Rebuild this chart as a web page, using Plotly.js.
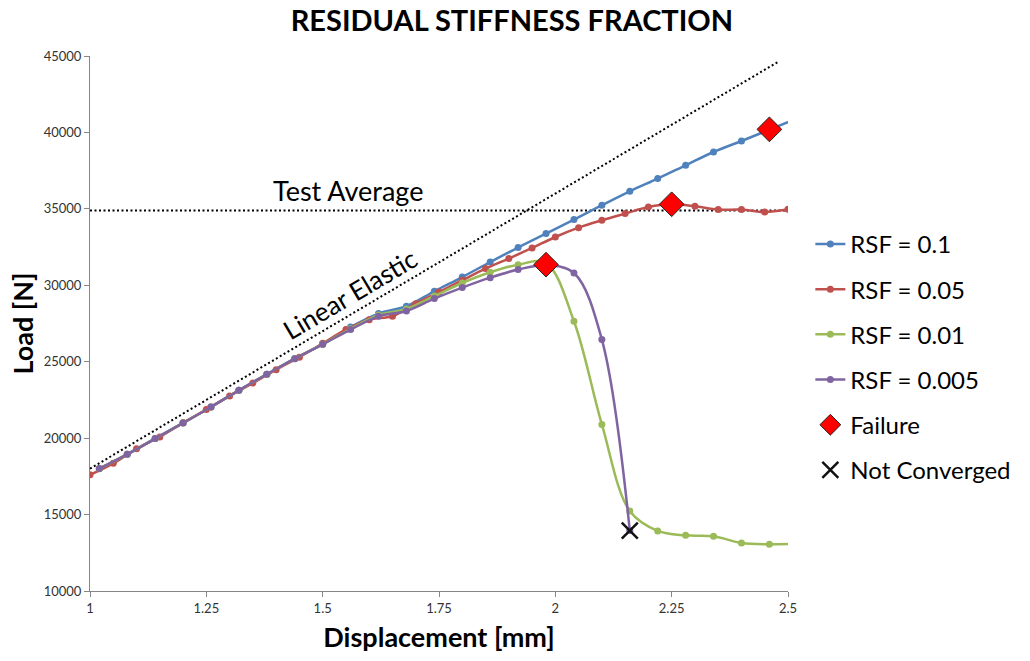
<!DOCTYPE html>
<html>
<head>
<meta charset="utf-8">
<script src="https://cdn.plot.ly/plotly-3.0.1.min.js"></script>
<style>html,body{margin:0;padding:0;background:#fff;}#chart{width:1030px;height:661px;}</style>
</head>
<body>
<div id="chart"></div>
<script>
// ---- data ----
var xStep06 = [1.02,1.08,1.14,1.20,1.26,1.32,1.38,1.44,1.50,1.56,1.62,1.68,1.74,1.80,1.86,1.92,1.98,2.04,2.10,2.16,2.22,2.28,2.34,2.40,2.46,2.52];
var xStep05 = [1.00,1.05,1.10,1.15,1.20,1.25,1.30,1.35,1.40,1.45,1.50,1.55,1.60,1.65,1.70,1.75,1.80,1.85,1.90,1.95,2.00,2.05,2.10,2.15,2.20,2.25,2.30,2.35,2.40,2.45,2.50];

var rsf01 = [18000,18950,19980,21000,22040,23130,24180,25210,26150,27270,28150,28630,29610,30540,31520,32470,33380,34300,35240,36150,36980,37850,38720,39440,40180,40930];
var rsf005 = [17600,18350,19300,20080,21000,21870,22760,23600,24480,25300,26200,27100,27750,27980,28800,29560,30330,31090,31750,32440,33160,33770,34250,34690,35120,35300,35170,34950,34950,34790,34970];
var rsf001 = [18010,18940,19970,20990,22040,23130,24180,25200,26140,27150,28050,28450,29300,30150,30850,31350,31450,27650,20900,15230,13930,13640,13580,13140,13060,13100];
var xRsf0005 = [1.02,1.08,1.14,1.20,1.26,1.32,1.38,1.44,1.50,1.56,1.62,1.68,1.74,1.80,1.86,1.92,1.98,2.04,2.10,2.16];
var rsf0005 = [18010,18940,19970,20990,22040,23130,24180,25200,26140,27100,27970,28320,29130,29850,30500,31030,31310,30800,26450,13950];

var failX = [1.98, 2.25, 2.46];
var failY = [31350, 35300, 40200];
var notConvX = [2.16];
var notConvY = [13950];

var testAvgX = [1, 2.5];
var testAvgY = [34900, 34900];
var linElX = [1, 2.48];
var linElY = [18000, 44640];

var seriesNames = ['RSF = 0.1','RSF = 0.05','RSF = 0.01','RSF = 0.005'];
var colors = ['#4F81BD','#C0504D','#9BBB59','#8064A2'];

var xTicks = [1, 1.25, 1.5, 1.75, 2, 2.25, 2.5];
var xTickText = ['1','1.25','1.5','1.75','2','2.25','2.5'];
var yTicks = [10000,15000,20000,25000,30000,35000,40000,45000];
var yTickText = ['10000','15000','20000','25000','30000','35000','40000','45000'];

// ---- traces ----
var FONT = 'Lato, "Open Sans", sans-serif';
function series(x, y, i) {
  return {
    x: x, y: y, name: seriesNames[i], type: 'scatter', mode: 'lines+markers',
    line: {color: colors[i], width: 2.5, shape: 'spline', smoothing: 1},
    marker: {color: colors[i], size: 7},
    legendgroup: 'g' + i, cliponaxis: true
  };
}
var traces = [
  {x: linElX, y: linElY, type: 'scatter', mode: 'lines', showlegend: false,
   line: {color: '#000', width: 2, dash: '2px,2.5px'}, hoverinfo: 'skip'},
  {x: testAvgX, y: testAvgY, type: 'scatter', mode: 'lines', showlegend: false,
   line: {color: '#000', width: 2, dash: '2px,2.5px'}, hoverinfo: 'skip'},
  series(xStep06, rsf01, 0),
  series(xStep05, rsf005, 1),
  series(xStep06, rsf001, 2),
  series(xRsf0005, rsf0005, 3),
  {x: failX, y: failY, name: 'Failure', type: 'scatter', mode: 'markers', legendgroup: 'g4',
   marker: {symbol: 'diamond', size: 19, color: '#FF0000', line: {color: '#222', width: 1}}},
  {x: notConvX, y: notConvY, name: 'Not Converged', type: 'scatter', mode: 'markers', legendgroup: 'g5',
   marker: {symbol: 'x-thin-open', size: 16, color: '#111', line: {color: '#111', width: 2.5}}}
];

var layout = {
  width: 1030, height: 661,
  paper_bgcolor: '#fff', plot_bgcolor: '#fff',
  margin: {l: 90, r: 242, t: 56, b: 70},
  font: {family: FONT, color: '#000'},
  title: {text: '<b>RESIDUAL STIFFNESS FRACTION</b>', font: {family: FONT, size: 29, color: '#000'},
          x: 0.497, xanchor: 'center', y: 0.968, yanchor: 'middle', yref: 'container'},
  xaxis: {
    range: [1, 2.5], tickmode: 'array', tickvals: xTicks, ticktext: xTickText,
    showgrid: false, zeroline: false, showline: true, linecolor: '#868686', linewidth: 1,
    ticks: 'outside', ticklen: 5, tickcolor: '#868686',
    tickfont: {family: FONT, size: 13, color: '#333'},
    title: {text: '<b>Displacement [mm]</b>', font: {family: FONT, size: 27, color: '#000'}, standoff: 13},
    automargin: false
  },
  yaxis: {
    range: [10000, 45000], tickmode: 'array', tickvals: yTicks, ticktext: yTickText,
    showgrid: false, zeroline: false, showline: true, linecolor: '#868686', linewidth: 1,
    ticks: 'outside', ticklen: 5, tickcolor: '#868686',
    tickfont: {family: FONT, size: 13, color: '#333'},
    title: {text: '<b>Load [N]</b>', font: {family: FONT, size: 27, color: '#000'}, standoff: 2},
    automargin: false
  },
  legend: {
    x: 1.032, xanchor: 'left', y: 0.69, yanchor: 'top',
    font: {family: FONT, size: 24, color: '#000'},
    traceorder: 'grouped', tracegroupgap: 11, bgcolor: 'rgba(0,0,0,0)'
  },
  annotations: [
    {x: 1.554, y: 36213, xref: 'x', yref: 'y', text: 'Test Average', showarrow: false,
     font: {family: FONT, size: 27, color: '#000'}},
    {x: 1.559, y: 29420, xref: 'x', yref: 'y', text: 'Linear Elastic', showarrow: false,
     textangle: -30.6, font: {family: FONT, size: 26, color: '#000'}}
  ],
  showlegend: true
};

Plotly.newPlot('chart', traces, layout, {displayModeBar: false, staticPlot: true});
</script>
</body>
</html>
